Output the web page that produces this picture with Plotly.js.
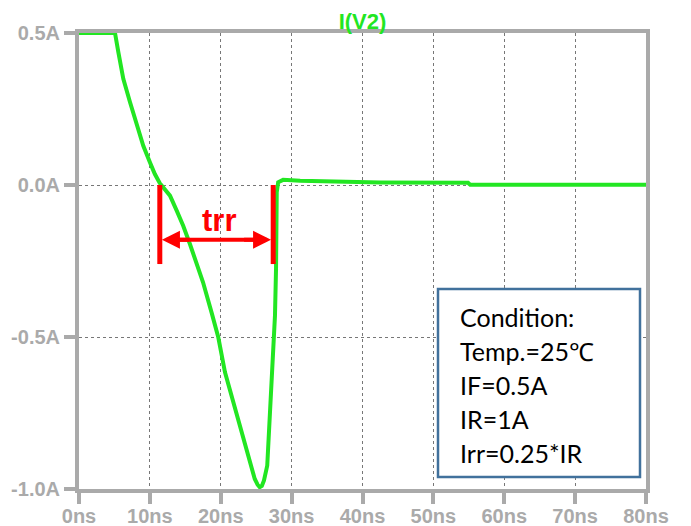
<!DOCTYPE html>
<html>
<head>
<meta charset="utf-8">
<script src="https://cdn.plot.ly/plotly-3.0.1.min.js"></script>
<style>html,body{margin:0;padding:0;background:#fff;}#chart{width:691px;height:526px;}</style>
</head>
<body>
<div id="chart"></div>
<script>
// ---- data ----
var timeNs = [0, 5.08, 5.55, 6.25, 7.2, 8.14, 9.07, 10.0, 10.7, 11.4, 12.84, 13.8, 14.7, 15.66, 16.6, 17.5, 18.7, 19.65, 20.6, 21.77, 22.95, 24.13, 24.8, 25.2, 25.5, 25.8, 26.1, 26.56, 26.95, 27.3, 27.65, 27.8, 27.9, 28.1, 28.8, 31.2, 34.9, 42.5, 54.9, 55.2, 80];
var currentA = [0.5, 0.5, 0.437, 0.349, 0.272, 0.195, 0.129, 0.075, 0.036, 0.006, -0.035, -0.085, -0.134, -0.195, -0.255, -0.32, -0.419, -0.501, -0.616, -0.715, -0.814, -0.912, -0.967, -0.986, -0.994, -0.99, -0.972, -0.923, -0.759, -0.594, -0.43, -0.276, -0.024, 0.009, 0.017, 0.014, 0.011, 0.008, 0.007, 0.001, 0.001];
var xTickVals = [0, 10, 20, 30, 40, 50, 60, 70, 80];
var xTickText = ['0ns', '10ns', '20ns', '30ns', '40ns', '50ns', '60ns', '70ns', '80ns'];
var yTickVals = [-1.0, -0.5, 0.0, 0.5];
var yTickText = ['-1.0A', '-0.5A', '0.0A', '0.5A'];
var traceName = 'I(V2)';
var trrStartNs = [11.4];
var trrEndNs = [27.4];
var trrBarBottomA = [-0.26];
var trrArrowA = [-0.18];
var trrLabel = ['trr'];
var conditionLines = ['Condition:', 'Temp.=25\u2103', 'IF=0.5A', 'IR=1A', 'Irr=0.25*IR'];

// ---- layout helpers (pixel -> paper) ----
var W = 691, H = 526;
var M = {l: 79, r: 45, t: 33, b: 37};
var PW = W - M.l - M.r, PH = H - M.t - M.b;
function px2paperX(px) { return (px - M.l) / PW; }
function py2paperY(py) { return (H - M.b - py) / PH; }

var green = '#22e622';
var red = '#ff0000';
var gray = '#aaaaaa';
var boldFont = 'Liberation Sans';

var trace = {
  x: timeNs, y: currentA, type: 'scatter', mode: 'lines', name: traceName,
  line: {color: green, width: 4, shape: 'linear'},
  showlegend: false, hoverinfo: 'none'
};

var shapes = [
  {type: 'line', xref: 'x', yref: 'y', x0: trrStartNs[0], x1: trrStartNs[0], y0: 0, y1: trrBarBottomA[0], line: {color: red, width: 5}},
  {type: 'line', xref: 'x', yref: 'y', x0: trrEndNs[0], x1: trrEndNs[0], y0: 0, y1: trrBarBottomA[0], line: {color: red, width: 5}},
  {type: 'line', xref: 'x', yref: 'y', x0: trrStartNs[0] + 1.5, x1: trrEndNs[0] - 1.5, y0: trrArrowA[0], y1: trrArrowA[0], line: {color: red, width: 4}},
  {type: 'rect', xref: 'paper', yref: 'paper', layer: 'above',
   x0: px2paperX(438), x1: px2paperX(640), y0: py2paperY(477), y1: py2paperY(289),
   line: {color: '#41719c', width: 2.5}, fillcolor: '#ffffff'}
];

var annotations = [
  {xref: 'x', yref: 'y', x: trrStartNs[0] + 0.3, y: trrArrowA[0], ax: 30, ay: 0, text: ' ', showarrow: true, arrowhead: 2, arrowsize: 0.9, arrowwidth: 4, arrowcolor: red},
  {xref: 'x', yref: 'y', x: trrEndNs[0] - 0.3, y: trrArrowA[0], ax: -30, ay: 0, text: ' ', showarrow: true, arrowhead: 2, arrowsize: 0.9, arrowwidth: 4, arrowcolor: red},
  {xref: 'x', yref: 'y', x: (trrStartNs[0] + trrEndNs[0]) / 2 + 0.3, y: trrArrowA[0], yshift: 19, text: '<b>' + trrLabel[0] + '</b>', showarrow: false,
   font: {family: boldFont, size: 31, color: red}}
];
var lineCenters = [317, 351, 385, 419, 453];
conditionLines.forEach(function (t, i) {
  annotations.push({xref: 'paper', yref: 'paper', x: px2paperX(458), y: py2paperY(lineCenters[i]), xanchor: 'left', yanchor: 'middle',
    text: t, showarrow: false, font: {family: 'Lato', size: 25, color: '#000000'}});
});

var axisCommon = {
  showline: true, mirror: true, linecolor: gray, linewidth: 4,
  ticks: 'outside', ticklen: 11, tickwidth: 4, tickcolor: gray,
  showgrid: true, gridcolor: '#777777', gridwidth: 1, griddash: '3px,3px',
  zeroline: false, fixedrange: true,
  tickfont: {family: boldFont, size: 20, color: gray, weight: 'bold'}
};

var layout = {
  width: W, height: H, margin: M,
  paper_bgcolor: '#ffffff', plot_bgcolor: '#ffffff',
  title: {text: '<b>' + traceName + '</b>', x: 0.5, xref: 'paper', y: 1 - 21 / H, yanchor: 'middle',
          font: {family: boldFont, size: 22, color: green}},
  xaxis: Object.assign({}, axisCommon, {range: [0, 80], tickvals: xTickVals, ticktext: xTickText, ticklabelstandoff: -5}),
  yaxis: Object.assign({}, axisCommon, {range: [-1.0, 0.5], tickvals: yTickVals, ticktext: yTickText}),
  shapes: shapes, annotations: annotations, showlegend: false
};

Plotly.newPlot('chart', [trace], layout, {displayModeBar: false, staticPlot: true});
</script>
</body>
</html>
